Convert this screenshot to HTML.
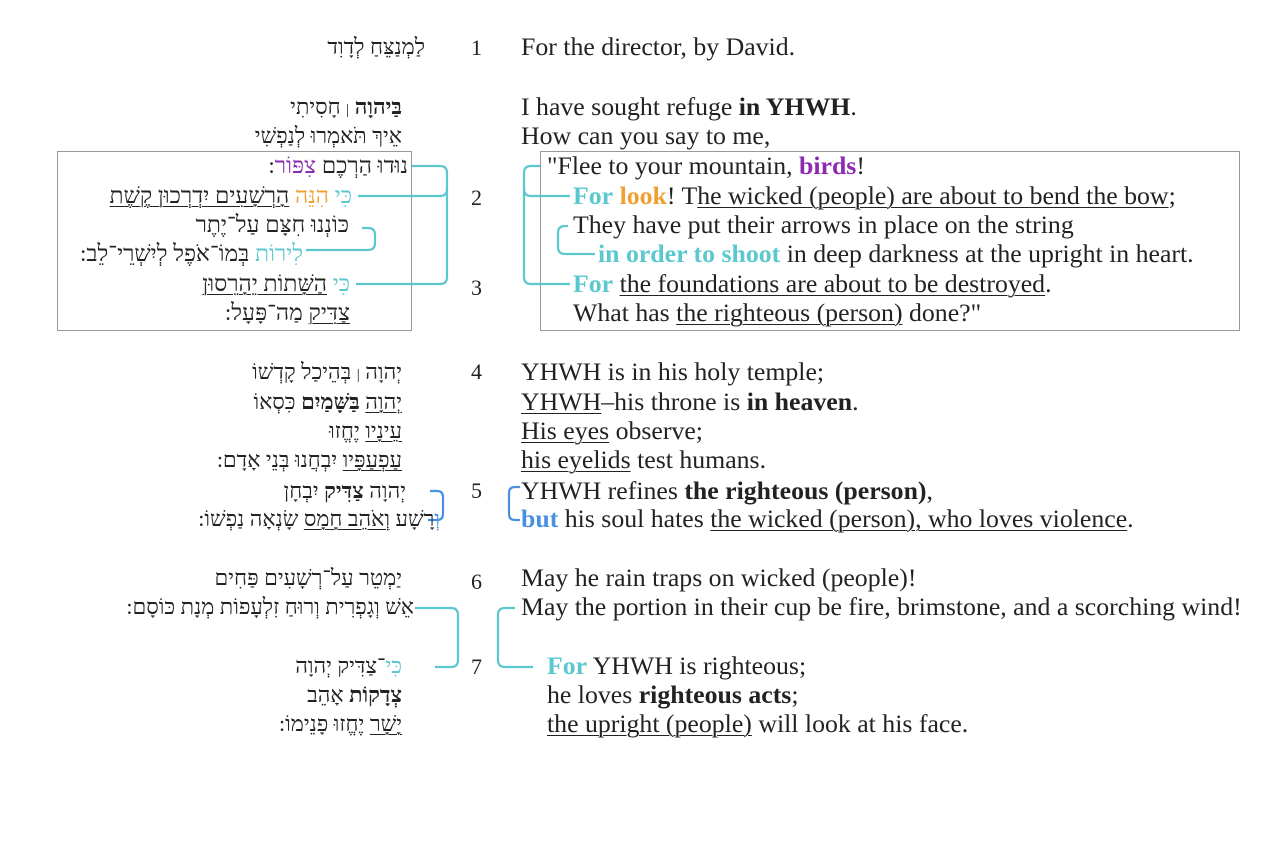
<!DOCTYPE html>
<html><head><meta charset="utf-8"><style>
body{margin:0;width:1280px;height:856px;background:#fff;position:relative;font-family:"Liberation Serif","DejaVu Serif",serif;color:#222;overflow:hidden}
.e{position:absolute;font-size:25.8px;white-space:nowrap;line-height:28px}
.h{position:absolute;font-size:22px;white-space:nowrap;direction:rtl;text-align:right;line-height:28px}
.hb{font-size:23px}
.n{position:absolute;font-size:22px;line-height:28px}
.ps{font-size:15px;font-weight:normal}
u{text-decoration:underline;text-underline-offset:3px;text-decoration-thickness:1px}
.t{color:#5bc8d0;font-weight:bold}.ht{color:#5bc8d0}.o{color:#f0a030}.ob{color:#f0a030;font-weight:bold}
.p{color:#8a2bb0}.pb{color:#8a2bb0;font-weight:bold}.bb{color:#4a90e2;font-weight:bold}
.box{position:absolute;border:1.5px solid #999}
</style></head><body>
<div class="box" style="left:57px;top:151px;width:353px;height:178px"></div>
<div class="box" style="left:540px;top:151px;width:698px;height:178px"></div>
<svg width="1280" height="856" style="position:absolute;left:0;top:0" fill="none">
<g stroke="#5bc8d0" stroke-width="2.2">
<path d="M412 166 H440 Q447 166 447 173 V277 Q447 284 440 284 H356"/>
<path d="M358 196 H440 Q447 196 447 189"/>
<path d="M362 228 H368 Q375 228 375 235 V243 Q375 250 368 250 H306"/>
<path d="M540 166 H531 Q524 166 524 173 V277 Q524 284 531 284 H570"/>
<path d="M524 189 Q524 196 531 196 H570"/>
<path d="M568 226 H565 Q558 226 558 233 V247 Q558 254 565 254 H595"/>
<path d="M415 608 H451 Q458 608 458 615 V660 Q458 667 451 667 H435"/>
<path d="M515 608 H505 Q498 608 498 615 V660 Q498 667 505 667 H533"/>
</g>
<g stroke="#4a90e2" stroke-width="2.2">
<path d="M430 491 H437 Q443 491 443 497 V514 Q443 520 437 520 H428"/>
<path d="M520 487 H515 Q509 487 509 493 V514 Q509 520 515 520 H520"/>
</g>
</svg>
<div class="h" style="right:855px;top:33px">לַמְנַצֵּחַ לְדָוִד</div>
<div class="h" style="right:878px;top:93px"><b>בַּיהוָה</b> <span class="ps">|</span> חָסִיתִי</div>
<div class="h" style="right:878px;top:122px">אֵיךְ תֹּאמְרוּ לְנַפְשִׁי</div>
<div class="h hb" style="right:872px;top:152px">נוּדוּ הַרְכֶם <span class="p">צִפּוֹר</span>:</div>
<div class="h hb" style="right:928px;top:182px"><span class="ht">כִּי</span> <span class="o">הִנֵּה</span> <u>הָרְשָׁעִים יִדְרְכוּן קֶשֶׁת</u></div>
<div class="h hb" style="right:931px;top:211px">כּוֹנְנוּ חִצָּם עַל־יֶתֶר</div>
<div class="h hb" style="right:977px;top:240px"><span class="ht">לִירוֹת</span> בְּמוֹ־אֹפֶל לְיִשְׁרֵי־לֵב:</div>
<div class="h hb" style="right:930px;top:270px"><span class="ht">כִּי</span> <u>הַשָּׁתוֹת יֵהָרֵסוּן</u></div>
<div class="h hb" style="right:930px;top:299px"><u>צַדִּיק</u> מַה־פָּעָל:</div>
<div class="h" style="right:878px;top:358px">יְהוָה <span class="ps">|</span> בְּהֵיכַל קָדְשׁוֹ</div>
<div class="h" style="right:878px;top:388px"><u>יְהוָה</u> <b>בַּשָּׁמַיִם</b> כִּסְאוֹ</div>
<div class="h" style="right:878px;top:417px"><u>עֵינָיו</u> יֶחֱזוּ</div>
<div class="h" style="right:878px;top:446px"><u>עַפְעַפָּיו</u> יִבְחֲנוּ בְּנֵי אָדָם:</div>
<div class="h" style="right:874px;top:477px">יְהוָה <b>צַדִּיק</b> יִבְחָן</div>
<div class="h" style="right:840px;top:505px"><span style="color:#4a90e2">וְ</span>רָשָׁע <u>וְאֹהֵב חָמָס</u> שָׂנְאָה נַפְשׁוֹ:</div>
<div class="h" style="right:878px;top:564px">יַמְטֵר עַל־רְשָׁעִים פַּחִים</div>
<div class="h" style="right:866px;top:593px">אֵשׁ וְגָפְרִית וְרוּחַ זִלְעָפוֹת מְנָת כּוֹסָם:</div>
<div class="h" style="right:878px;top:652px"><span class="ht">כִּי</span>־צַדִּיק יְהוָה</div>
<div class="h" style="right:878px;top:681px"><b>צְדָקוֹת</b> אָהֵב</div>
<div class="h" style="right:878px;top:710px"><u>יָשָׁר</u> יֶחֱזוּ פָנֵימוֹ:</div>
<div class="n" style="left:471px;top:34px">1</div>
<div class="n" style="left:471px;top:184px">2</div>
<div class="n" style="left:471px;top:274px">3</div>
<div class="n" style="left:471px;top:358px">4</div>
<div class="n" style="left:471px;top:477px">5</div>
<div class="n" style="left:471px;top:568px">6</div>
<div class="n" style="left:471px;top:653px">7</div>
<div class="e" style="left:521px;top:33px">For the director, by David.</div>
<div class="e" style="left:521px;top:93px">I have sought refuge <b>in YHWH</b>.</div>
<div class="e" style="left:521px;top:122px">How can you say to me,</div>
<div class="e" style="left:547px;top:152px">"Flee to your mountain, <span class="pb">birds</span>!</div>
<div class="e" style="left:573px;top:182px"><span class="t">For</span> <span class="ob">look</span>! T<u>he wicked (people) are about to bend the bow</u>;</div>
<div class="e" style="left:573px;top:211px">They have put their arrows in place on the string</div>
<div class="e" style="left:598px;top:240px"><span class="t">in order to shoot</span> in deep darkness at the upright in heart.</div>
<div class="e" style="left:573px;top:270px"><span class="t">For</span> <u>the foundations are about to be destroyed</u>.</div>
<div class="e" style="left:573px;top:299px">What has <u>the righteous (person)</u> done?"</div>
<div class="e" style="left:521px;top:358px">YHWH is in his holy temple;</div>
<div class="e" style="left:521px;top:388px"><u>YHWH</u>–his throne is <b>in heaven</b>.</div>
<div class="e" style="left:521px;top:417px"><u>His eyes</u> observe;</div>
<div class="e" style="left:521px;top:446px"><u>his eyelids</u> test humans.</div>
<div class="e" style="left:521px;top:477px">YHWH refines <b>the righteous (person)</b>,</div>
<div class="e" style="left:521px;top:505px"><span class="bb">but</span> his soul hates <u>the wicked (person), who loves violence</u>.</div>
<div class="e" style="left:521px;top:564px">May he rain traps on wicked (people)!</div>
<div class="e" style="left:521px;top:593px">May the portion in their cup be fire, brimstone, and a scorching wind!</div>
<div class="e" style="left:547px;top:652px"><span class="t">For</span> YHWH is righteous;</div>
<div class="e" style="left:547px;top:681px">he loves <b>righteous acts</b>;</div>
<div class="e" style="left:547px;top:710px"><u>the upright (people)</u> will look at his face.</div>
</body></html>
